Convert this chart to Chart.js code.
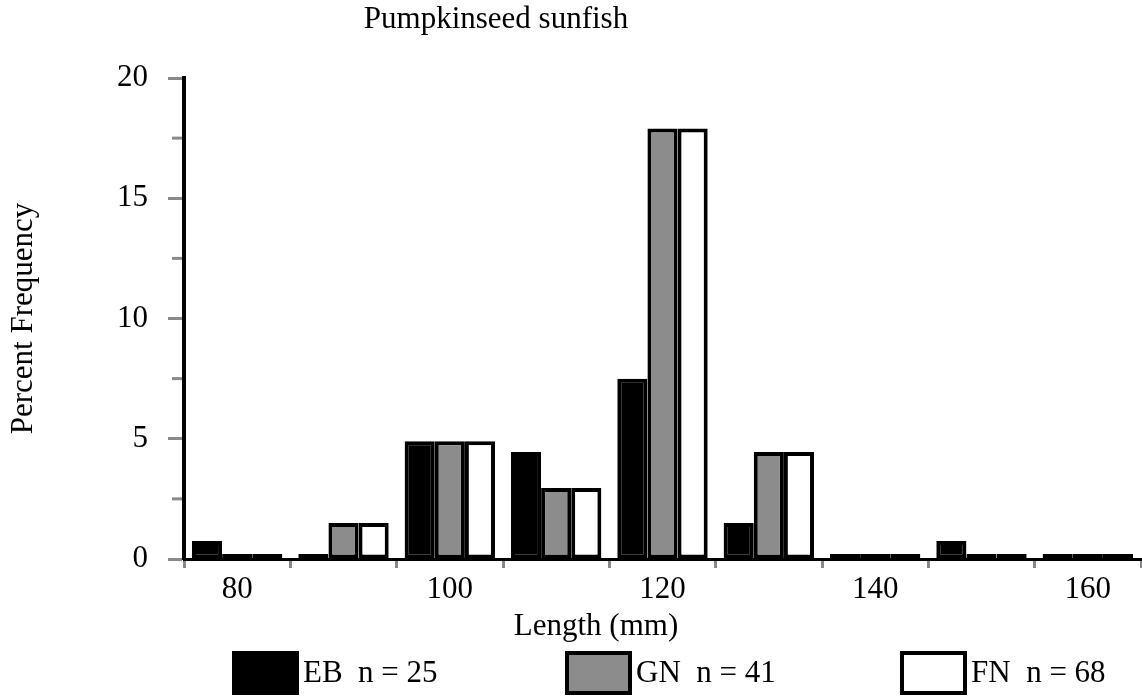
<!DOCTYPE html>
<html>
<head>
<meta charset="utf-8">
<script src="https://cdn.jsdelivr.net/npm/chart.js@4.4.0/dist/chart.umd.min.js"></script>
<style>
  body { margin: 0; background: #ffffff; }
  #wrap { width: 1142px; height: 696px; }
</style>
</head>
<body>
<div id="wrap"><canvas id="myChart" width="1142" height="696"></canvas></div>
<script>
// values
var lengths = ['80', '90', '100', '110', '120', '130', '140', '150', '160'];
var ebValues = [0.75, 0, 4.9, 4.45, 7.5, 1.5, 0, 0.75, 0];
var gnValues = [0, 1.5, 4.9, 2.95, 17.9, 4.45, 0, 0, 0];
var fnValues = [0, 1.5, 4.9, 2.95, 17.9, 4.45, 0, 0, 0];
var seriesNames = ['EB  n = 25', 'GN  n = 41', 'FN  n = 68'];
var seriesColours = ['#000000', '#8c8c8c', '#ffffff'];
var chartTitle = 'Pumpkinseed sunfish';
var xTitle = 'Length (mm)';
var yTitle = 'Percent Frequency';
var yMin = 0, yMax = 20, yStep = 2.5;

var serif = '"Liberation Serif", "Times New Roman", serif';
var tickGrey = '#898989';

Chart.defaults.font.family = serif;
Chart.defaults.color = '#000000';

// title, axis title, minor ticks and legend boxes
var decor = {
    id: 'decor',
    beforeDatasetsDraw: function(chart){
        var ctx = chart.ctx;
        var y = chart.scales.y;
        var left = chart.chartArea.left;
        ctx.save();
        ctx.strokeStyle = tickGrey;
        ctx.lineWidth = 3;
        y.ticks.forEach(function(t){
            if (t.value % 5 !== 0){
                var py = y.getPixelForValue(t.value);
                ctx.beginPath();
                ctx.moveTo(left - 12, py);
                ctx.lineTo(left - 2, py);
                ctx.stroke();
            }
        })
        ctx.restore();
    },
    afterDraw: function(chart){
        var ctx = chart.ctx;
        ctx.save();
        ctx.fillStyle = '#000000';
        ctx.font = '31px ' + serif;
        ctx.textAlign = 'center';
        ctx.textBaseline = 'alphabetic';
        ctx.fillText(chartTitle, 496, 28);
        ctx.fillText(xTitle, 596, 635);

        var boxX = [232, 565, 900];
        ctx.textAlign = 'left';
        chart.data.datasets.forEach(function(ds, i){
            ctx.fillStyle = ds.backgroundColor;
            ctx.fillRect(boxX[i], 651, 67, 44);
            ctx.strokeStyle = '#000000';
            ctx.lineWidth = 4;
            ctx.strokeRect(boxX[i] + 2, 653, 63, 40);
            ctx.fillStyle = '#000000';
            ctx.fillText(ds.label, boxX[i] + 71, 682);
        })
        ctx.restore();
    }
};

var makeSet = function(i, values){
    return {
        label: seriesNames[i],
        data: values,
        backgroundColor: seriesColours[i],
        borderColor: '#000000',
        borderWidth: 4,
        borderSkipped: false,
        minBarLength: 5,
        barPercentage: 1.0,
        categoryPercentage: 0.85
    };
}

var ctx = document.getElementById("myChart");
var myChart = new Chart(ctx, {
    type: 'bar',
    data: {
        labels: lengths,
        datasets: [makeSet(0, ebValues), makeSet(1, gnValues), makeSet(2, fnValues)]
    },
    plugins: [decor],
    options: {
        responsive: false,
        animation: false,
        layout: { padding: { top: 78, right: 1, bottom: 0, left: 0 } },
        plugins: {
            legend: { display: false },
            title: { display: false },
            tooltip: { enabled: false }
        },
        scales: {
            x: {
                afterFit: function(scale){ scale.height = 137; },
                grid: {
                    offset: true,
                    drawOnChartArea: false,
                    drawTicks: true,
                    tickLength: 9,
                    tickWidth: 3,
                    tickColor: tickGrey
                },
                border: { display: true, color: '#000000', width: 3 },
                ticks: {
                    font: { size: 31 },
                    padding: 3,
                    maxRotation: 0,
                    autoSkip: false,
                    callback: function(value, index){
                        return index % 2 === 0 ? lengths[index] : '';
                    }
                }
            },
            y: {
                min: yMin,
                max: yMax,
                afterFit: function(scale){ scale.width = 184; },
                grid: {
                    drawOnChartArea: false,
                    drawTicks: true,
                    tickLength: 16,
                    tickWidth: 3,
                    tickColor: function(c){
                        return c.tick && c.tick.value % 5 === 0 ? tickGrey : 'rgba(0,0,0,0)';
                    }
                },
                border: { display: true, color: '#000000', width: 4 },
                ticks: {
                    stepSize: yStep,
                    font: { size: 31 },
                    padding: 20,
                    callback: function(value){
                        return value % 5 === 0 ? value : '';
                    }
                },
                title: {
                    display: true,
                    text: yTitle,
                    font: { size: 31 },
                    padding: { top: 5, bottom: 0 }
                }
            }
        }
    }
})
</script>
</body>
</html>
